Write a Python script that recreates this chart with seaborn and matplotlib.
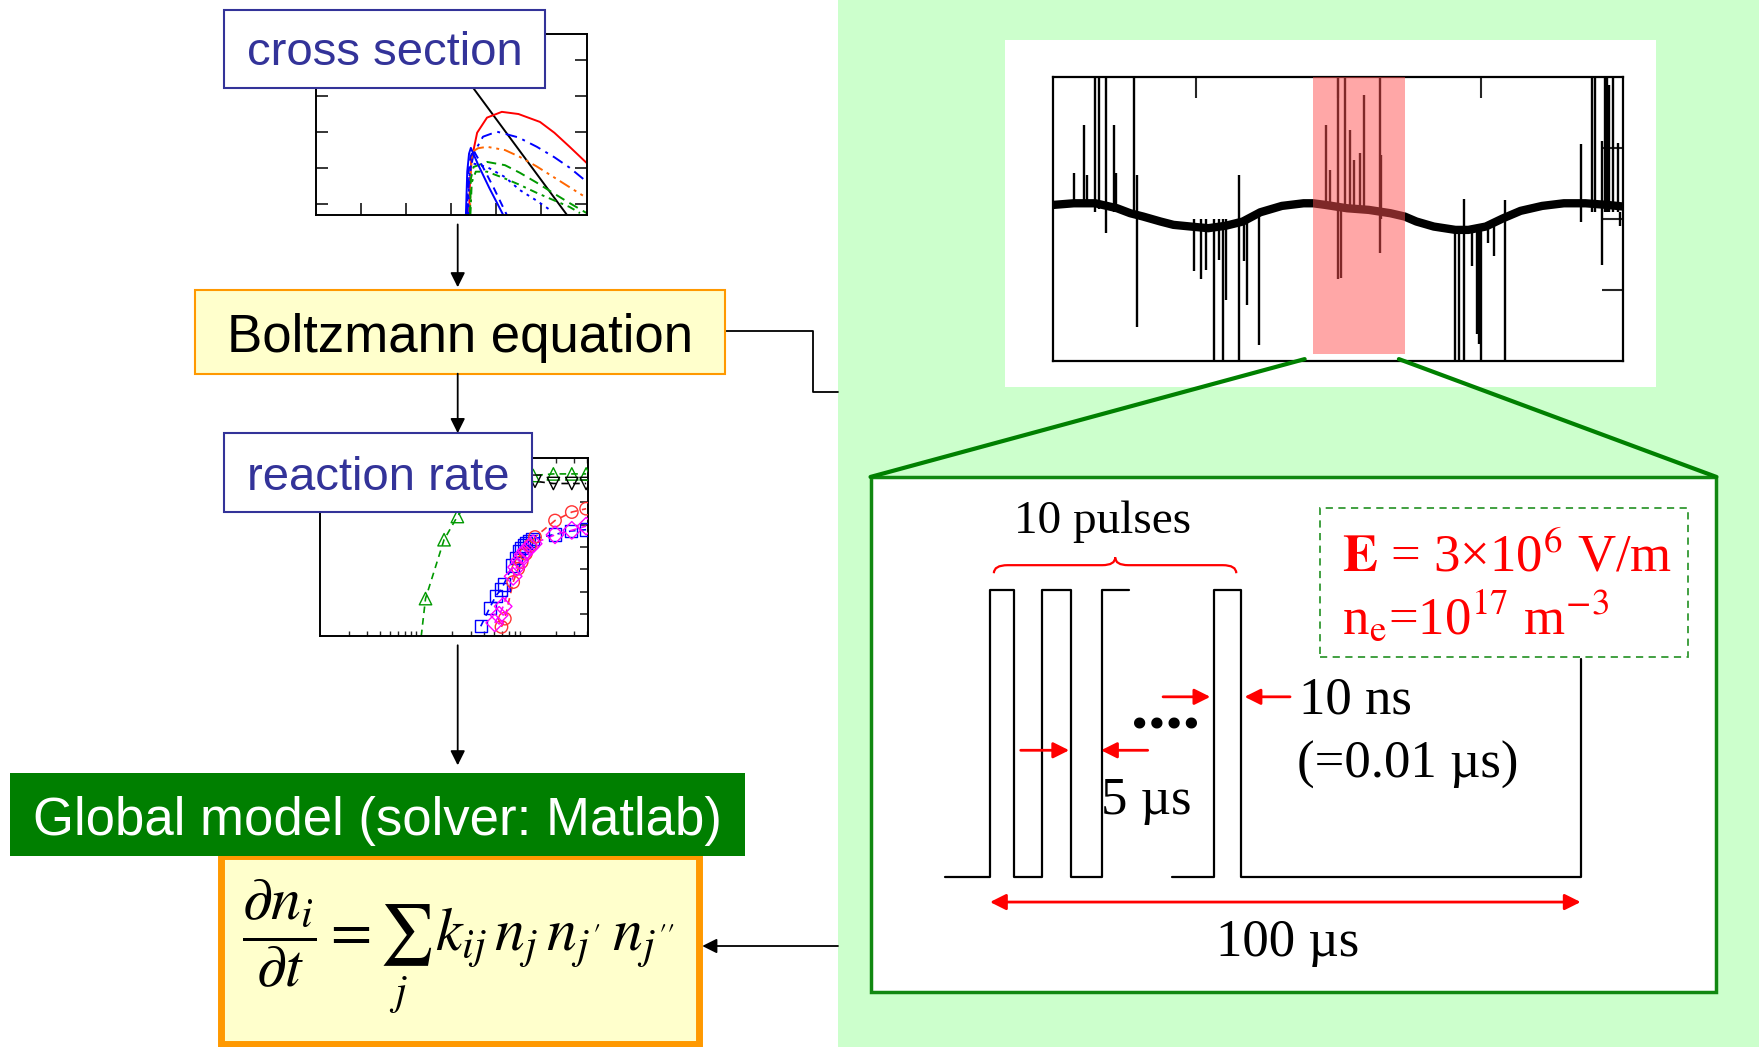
import numpy as np
import pandas as pd
import matplotlib
matplotlib.use("Agg")
import matplotlib.pyplot as plt
import seaborn as sns
from matplotlib.patches import Rectangle, PathPatch
from matplotlib.path import Path
from matplotlib.ticker import LogLocator, NullFormatter

sns.set_theme(style="white")
plt.rcParams['font.family'] = ['Liberation Sans', 'DejaVu Sans']
plt.rcParams['mathtext.fontset'] = 'stix'

# ---------------- data ----------------
# cross-section panel (arbitrary panel units)
cs_black_x = [2.60, 5.58]
cs_black_y = [5.03, 0.00]
cs_red_x = [3.40, 3.42, 3.45, 3.58, 3.80, 4.13, 4.50, 4.98, 5.30, 5.64, 6.02]
cs_red_y = [0.00, 0.90, 1.50, 2.28, 2.70, 2.86, 2.80, 2.58, 2.28, 1.89, 1.44]
cs_bdd_x = [3.36, 3.40, 3.50, 3.71, 4.02, 4.50, 4.91, 5.30, 5.64, 6.02]
cs_bdd_y = [0.00, 1.00, 1.70, 2.17, 2.31, 2.15, 1.89, 1.60, 1.31, 0.92]
cs_org_x = [3.42, 3.44, 3.47, 3.60, 3.80, 4.20, 4.53, 4.90, 5.27, 5.65, 6.02]
cs_org_y = [0.00, 1.20, 1.75, 1.85, 1.89, 1.80, 1.61, 1.35, 1.06, 0.76, 0.47]
cs_grd_x = [3.42, 3.44, 3.50, 3.80, 4.20, 4.53, 4.90, 5.27, 5.65, 6.02]
cs_grd_y = [0.00, 1.00, 1.33, 1.47, 1.38, 1.17, 0.90, 0.61, 0.32, 0.05]
cs_grdd_x = [3.43, 3.46, 3.55, 3.80, 4.16, 4.50, 4.91, 5.30, 5.64, 5.87]
cs_grdd_y = [0.00, 0.90, 1.20, 1.20, 1.03, 0.85, 0.61, 0.40, 0.22, 0.05]
cs_bdot_x = [3.38, 3.40, 3.45, 3.80, 4.20, 4.53, 4.90, 5.20]
cs_bdot_y = [0.00, 1.00, 1.44, 1.33, 1.05, 0.69, 0.40, 0.14]
cs_bsol_x = [3.33, 3.36, 3.40, 3.44, 3.60, 3.85, 4.16]
cs_bsol_y = [0.00, 1.20, 1.70, 1.86, 1.40, 0.75, 0.00]
cs_bdash_x = [3.35, 3.38, 3.43, 3.49, 3.70, 3.95, 4.24]
cs_bdash_y = [0.00, 1.10, 1.60, 1.81, 1.35, 0.75, 0.00]

# reaction-rate panel (log x)
rr_green_x = [1.00, 1.10, 1.66, 2.23, 3.0, 4.0, 5.5, 8.0, 12.0, 18.8, 28.3, 38.9]
rr_green_y = [0.00, 1.69, 4.33, 5.37, 6.2, 6.8, 7.05, 7.15, 7.21, 7.28, 7.28, 7.28]
rr_black_x = [8.0, 10.0, 12.5, 18.8, 28.3, 38.9]
rr_black_y = [6.95, 6.95, 6.95, 6.85, 6.85, 6.85]
rr_blue_x = [3.75, 4.58, 5.24, 5.86, 6.26, 7.6, 8.18, 8.81, 9.3, 9.84, 10.3, 11.0, 11.8, 19.5, 27.9, 38.9]
rr_blue_y = [0.45, 1.28, 1.81, 2.09, 2.33, 3.18, 3.52, 3.82, 3.97, 4.07, 4.18, 4.27, 4.36, 4.57, 4.72, 4.78]
rr_red_x = [5.94, 6.4, 7.7, 8.6, 9.3, 10.2, 11.2, 12.5, 19.5, 28.3, 38.9]
rr_red_y = [0.42, 0.79, 2.43, 3.03, 3.33, 3.70, 4.07, 4.45, 5.19, 5.57, 5.72]
rr_mag_x = [5.12, 5.64, 6.17, 7.7, 8.3, 8.9, 9.6, 10.3, 11.2, 12.0, 19.5, 28.3, 38.9]
rr_mag_y = [0.60, 0.94, 1.34, 2.69, 3.10, 3.40, 3.67, 3.85, 4.00, 4.15, 4.55, 4.75, 4.94]

# measured signal: smooth baseline + spikes
sig_x = [0.0, 0.143, 0.295, 0.447, 0.539, 0.630, 0.752, 0.843, 0.965, 1.087, 1.209, 1.330, 1.452,
         1.604, 1.756, 1.823, 1.909, 2.061, 2.213, 2.365, 2.466, 2.548, 2.670, 2.822, 2.913, 3.035,
         3.157, 3.279, 3.431, 3.583, 3.735, 3.887, 4.0]
sig_y = [0.204, 0.227, 0.227, 0.157, 0.087, 0.040, -0.030, -0.077, -0.101, -0.124, -0.090, -0.030,
         0.100, 0.190, 0.227, 0.227, 0.204, 0.157, 0.134, 0.087, 0.040, -0.030, -0.101, -0.148,
         -0.148, -0.101, 0.016, 0.120, 0.190, 0.227, 0.227, 0.204, 0.181]
spk_x = [0.143, 0.213, 0.234, 0.289, 0.320, 0.371, 0.423, 0.44, 0.563, 0.585,
         0.986, 1.035, 1.07, 1.126, 1.163, 1.19, 1.21, 1.30, 1.34, 1.36, 1.446,
         1.915, 1.94, 2.0, 2.02, 2.05, 2.085, 2.107, 2.15, 2.18, 2.29, 2.30,
         2.816, 2.85, 2.88, 2.94, 2.97, 2.985, 3.00, 3.05, 3.09, 3.17,
         3.70, 3.78, 3.80, 3.85, 3.87, 3.885, 3.90, 3.925, 3.96, 3.975]
spk_lo = [0.2, 0.2, 0.2, 0.1, 0.15, -0.19, 0.1, 0.1, 0.1, -1.51,
          -0.73, -0.84, -0.71, -2.0, -0.57, -2.0, -1.13, -2.0, -0.59, -1.2, -1.77,
          0.2, 0.2, -0.84, -0.83, 0.1, 0.1, 0.1, 0.1, 0.1, -0.48, 0.0,
          -2.0, -2.0, -2.0, -0.66, -1.62, -1.75, -2.0, -0.33, -0.52, -2.0,
          -0.03, 0.1, 0.1, -0.64, 0.1, 0.1, 0.1, 0.1, 0.1, -0.1]
spk_hi = [0.65, 1.33, 0.63, 2.0, 2.0, 2.0, 1.33, 0.65, 2.0, 0.63,
          0.0, 0.0, 0.0, 0.0, 0.0, 0.0, 0.0, 0.63, 0.0, 0.0, 0.1,
          1.33, 0.70, 2.0, 0.2, 2.0, 1.26, 0.84, 0.93, 1.75, 2.0, 0.91,
          -0.1, -0.1, 0.29, -0.1, -0.1, -0.1, -0.1, -0.1, -0.1, 0.27,
          1.06, 2.0, 2.0, 1.10, 2.0, 2.0, 1.89, 2.0, 1.07, 0.1]
band_x0, band_x1 = 1.82, 2.47

# pulse train schematic (time in us, level 0/1)
pulse1_t = [-7.7, 0.0, 0.0, 4.1, 4.1, 8.8, 8.8, 13.7, 13.7, 19.0, 19.0, 23.6]
pulse1_v = [0, 0, 1, 1, 0, 0, 1, 1, 0, 0, 1, 1]
pulse2_t = [30.8, 37.9, 37.9, 42.5, 42.5, 100.0, 100.0]
pulse2_v = [0, 0, 1, 1, 0, 0, 0.76]

# ---------------- layout ----------------
W, H = 1568, 933
fig = plt.figure(figsize=(17.59, 10.47), dpi=100)
fig.patch.set_facecolor('white')

def panel(x0, y0, x1, y1, z):
    return fig.add_axes([x0 / W, 1 - y1 / H, (x1 - x0) / W, (y1 - y0) / H], zorder=z)

bg = fig.add_axes([0, 0, 1, 1], zorder=0)
bg.set_xlim(0, W); bg.set_ylim(H, 0); bg.axis('off')
ov = fig.add_axes([0, 0, 1, 1], zorder=10)
ov.set_xlim(0, W); ov.set_ylim(H, 0); ov.axis('off')

GREEN_BG = '#CCFFCC'
YEL = '#FFFFCC'
ORG = '#FF9900'
BLU = '#333399'
DKG = '#007F00'

# background pieces
bg.plot([646, 725, 725, 747], [295, 295, 349, 349], color='black', lw=1.3)
bg.add_patch(Rectangle((747, 0), W - 747, H, facecolor=GREEN_BG, edgecolor='none'))
bg.add_patch(Rectangle((896, 36), 580, 309, facecolor='white', edgecolor='none'))
bg.add_patch(Rectangle((776, 425), 754, 459, facecolor='white', edgecolor='#118811', lw=2.5))

# ---- cross-section panel ----
ax1 = panel(282, 30, 523, 191.5, 2)
curves = [
    (cs_black_x, cs_black_y, 'black', '-'),
    (cs_red_x, cs_red_y, '#FF0000', '-'),
    (cs_bdd_x, cs_bdd_y, '#0000FF', (0, (6, 3, 1.5, 3))),
    (cs_org_x, cs_org_y, '#FF6600', (0, (6, 2.5, 1.5, 2.5, 1.5, 2.5))),
    (cs_grd_x, cs_grd_y, '#009900', (0, (5, 3))),
    (cs_grdd_x, cs_grdd_y, '#009900', (0, (4, 2.5, 1.5, 2.5))),
    (cs_bdot_x, cs_bdot_y, '#0000FF', (0, (1.5, 2.5))),
    (cs_bsol_x, cs_bsol_y, '#0000FF', '-'),
    (cs_bdash_x, cs_bdash_y, '#0000FF', (0, (4, 3))),
]
for cx, cy, col, ls in curves:
    sns.lineplot(x=cx, y=cy, ax=ax1, color=col, linestyle=ls, lw=1.4, sort=False, estimator=None)
ax1.set_xlim(0, 6.02); ax1.set_ylim(0, 5.03)
ax1.set_xticks([1, 2, 3, 4, 5]); ax1.set_yticks([0.31, 1.31, 2.31, 3.31, 4.31])
ax1.tick_params(direction='in', length=8.5, width=1.3, top=True, right=True, bottom=True, left=True,
                labelbottom=False, labelleft=False)
for s in ax1.spines.values():
    s.set_color('black'); s.set_linewidth(1.4)
ax1.set_facecolor('white')

# ---- reaction-rate panel ----
ax2 = panel(285, 408, 524, 567, 2)
series = [
    (rr_green_x, rr_green_y, '#009900', '^', 1),
    (rr_black_x, rr_black_y, 'black', 'v', 0),
    (rr_blue_x, rr_blue_y, '#0000FF', 's', 0),
    (rr_red_x, rr_red_y, '#FF3333', 'o', 0),
    (rr_mag_x, rr_mag_y, '#FF00FF', 'D', 0),
]
for sx, sy, col, mk, st in series:
    sns.lineplot(x=sx, y=sy, ax=ax2, color=col, linestyle=(0, (4, 3)), lw=1.2, sort=False, estimator=None)
    sns.scatterplot(x=sx[st:], y=sy[st:], ax=ax2, marker=mk, s=80, facecolors='none',
                    edgecolor=col, linewidth=1.0, zorder=3)
ax2.set_xscale('log')
ax2.set_xlim(0.105, 40.4); ax2.set_ylim(0, 8)
ax2.set_yticks([1, 2, 3, 4, 5, 6, 7])
ax2.xaxis.set_major_locator(LogLocator(base=10))
ax2.xaxis.set_minor_locator(LogLocator(base=10, subs=np.arange(2, 10)))
ax2.xaxis.set_minor_formatter(NullFormatter())
ax2.tick_params(which='major', direction='in', length=6, width=1.2, top=True, right=True,
                labelbottom=False, labelleft=False)
ax2.tick_params(which='minor', direction='in', length=3.5, width=1.0, top=True, bottom=True)
for s in ax2.spines.values():
    s.set_color('black'); s.set_linewidth(1.4)
ax2.set_facecolor('white')

# ---- signal panel ----
ax3 = panel(939, 69, 1447, 322, 2)
ax3.vlines(spk_x, spk_lo, spk_hi, color='black', lw=1.7)
sns.lineplot(x=sig_x, y=sig_y, ax=ax3, color='black', lw=6, sort=False, estimator=None)
ax3.axvspan(band_x0, band_x1, ymin=0.025, ymax=1.0, facecolor='#FF5050', alpha=0.5, edgecolor='none', zorder=5)
ax3.set_xlim(0, 4); ax3.set_ylim(-2, 2)
ax3.set_xticks([1, 2, 3]); ax3.set_yticks([-1, 0, 1])
ax3.tick_params(direction='in', length=15, width=1.5, top=True, right=True,
                labelbottom=False, labelleft=False)
for s in ax3.spines.values():
    s.set_color('black'); s.set_linewidth(1.6)
ax3.set_facecolor('white')

# ---- pulse schematic panel ----
ax4 = panel(776, 425, 1530, 884, 3)
ax4.patch.set_alpha(0)
for s in ax4.spines.values():
    s.set_visible(False)
ax4.set_xticks([]); ax4.set_yticks([])
ax4.set_xlim(-20.23, 122.98); ax4.set_ylim(-0.400, 1.392)
sns.lineplot(x=pulse1_t, y=pulse1_v, ax=ax4, color='black', lw=1.6, sort=False, estimator=None)
sns.lineplot(x=pulse2_t, y=pulse2_v, ax=ax4, color='black', lw=1.6, sort=False, estimator=None)
ax4.add_patch(Rectangle((55.9, 0.767), 118.1 - 55.9, 1.283 - 0.767, facecolor='none',
                        edgecolor='#339933', lw=1.3, linestyle=(0, (4, 3))))
# brace
bverts = [(0.65, 1.057), (0.65, 1.085), (3.0, 1.085), (19.0, 1.085), (21.2, 1.085), (21.2, 1.112),
          (21.2, 1.085), (23.4, 1.085), (39.4, 1.085), (41.7, 1.085), (41.7, 1.057)]
bcodes = [Path.MOVETO, Path.CURVE3, Path.CURVE3, Path.LINETO, Path.CURVE3, Path.CURVE3,
          Path.CURVE3, Path.CURVE3, Path.LINETO, Path.CURVE3, Path.CURVE3]
ax4.add_patch(PathPatch(Path(bverts, bcodes), facecolor='none', edgecolor='red', lw=1.6))

def red_arrow(x0, x1, y, style='-|>'):
    ax4.annotate('', xy=(x1, y), xytext=(x0, y),
                 arrowprops=dict(arrowstyle=style, color='red', lw=2, mutation_scale=24,
                                 shrinkA=0, shrinkB=0))

red_arrow(29.3, 37.3, 0.627)
red_arrow(50.8, 43.1, 0.627)
red_arrow(5.2, 13.4, 0.441)
red_arrow(26.7, 18.8, 0.441)
red_arrow(0.0, 100.0, -0.087, '<|-|>')

SER = ['Liberation Serif', 'DejaVu Serif']
ax4.text(19.1, 1.197, '10 pulses', family=SER, fontsize=34, ha='center', va='baseline', color='black')
ax4.text(52.3, 0.569, '10 ns', family=SER, fontsize=38, ha='left', va='baseline', color='black')
ax4.text(51.9, 0.345, '(=0.01 µs)', family=SER, fontsize=38, ha='left', va='baseline', color='black')
ax4.text(18.8, 0.221, '5 µs', family=SER, fontsize=38, ha='left', va='baseline', color='black')
ax4.text(29.7, 0.516, '....', family=SER, fontsize=50, fontweight='bold', ha='center', va='baseline', color='black')
ax4.text(50.4, -0.273, '100 µs', family=SER, fontsize=38, ha='center', va='baseline', color='black')
ax4.text(59.6, 1.062, r'$\mathbf{E}$ = 3×10$^{6}$ V/m', family=SER, fontsize=38, ha='left',
         va='baseline', color='#FF0000')
ax4.text(59.6, 0.845, r'n$_\mathrm{e}$=10$^{17}$ m$^{-3}$', family=SER, fontsize=38, ha='left',
         va='baseline', color='#FF0000')

# ---- overlay: boxes, labels, arrows ----
def box(x0, y0, x1, y1, fc, ec, lw):
    ov.add_patch(Rectangle((x0, y0), x1 - x0, y1 - y0, facecolor=fc, edgecolor=ec, lw=lw))

def karrow(x0, y0, x1, y1):
    ov.annotate('', xy=(x1, y1), xytext=(x0, y0),
                arrowprops=dict(arrowstyle='-|>', color='black', lw=1.3, mutation_scale=22,
                                shrinkA=0, shrinkB=0))

box(200, 9, 486, 78, 'white', BLU, 1.5)
ov.text(343, 58, 'cross section', fontsize=34, color=BLU, ha='center', va='baseline')
karrow(408, 200, 408, 256)
box(174, 258, 646, 333, YEL, ORG, 1.5)
ov.text(410, 313.5, 'Boltzmann equation', fontsize=38, color='black', ha='center', va='baseline')
karrow(408, 333, 408, 386)
box(200, 386, 474, 456, 'white', BLU, 1.5)
ov.text(337, 436.8, 'reaction rate', fontsize=34, color=BLU, ha='center', va='baseline')
karrow(408, 575, 408, 682)
box(197, 763, 623, 930, YEL, ORG, 5)
box(9, 689, 664, 763, DKG, 'none', 0)
ov.text(336.5, 744.3, 'Global model (solver: Matlab)', fontsize=38, color='white', ha='center', va='baseline')
ov.text(409, 843.5, r"$\dfrac{\partial n_i}{\partial t} = \sum_j\, k_{ij}\, n_j\, n_{j'}\, n_{j''}$",
        fontsize=43, color='black', ha='center', va='center')
karrow(747, 843, 626, 843)
ov.plot([1163, 776], [320, 425], color='#008000', lw=3)
ov.plot([1247, 1530], [320, 425], color='#008000', lw=3)

fig.savefig('out.png', dpi=100, facecolor='white')
